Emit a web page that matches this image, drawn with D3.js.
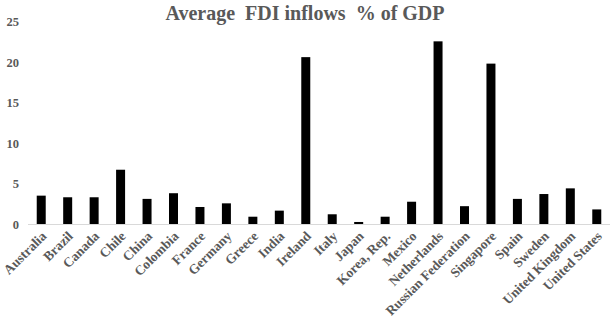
<!DOCTYPE html>
<html><head><meta charset="utf-8">
<script src="https://cdn.jsdelivr.net/npm/d3@7"></script>
<style>body{margin:0;background:#fff}svg{display:block}</style>
</head><body>
<script>
const categories = ["Australia","Brazil","Canada","Chile","China","Colombia","France","Germany","Greece","India","Ireland","Italy","Japan","Korea, Rep.","Mexico","Netherlands","Russian Federation","Singapore","Spain","Sweden","United Kingdom","United States"];
const values = [3.5,3.3,3.3,6.7,3.1,3.8,2.1,2.55,0.9,1.65,20.6,1.2,0.25,0.9,2.75,22.55,2.2,19.8,3.1,3.7,4.4,1.8];
const yTicks = [0,5,10,15,20,25];
const title = "Average  FDI inflows  % of GDP";

const W = 612, H = 322;
const svg = d3.select("body").append("svg").attr("width", W).attr("height", H);
const x = d3.scaleBand().domain(categories).range([28, 610]).paddingInner(0.66).paddingOuter(0.33);
const y = d3.scaleLinear().domain([0, 25]).range([224, 21.5]);
const font = "'Liberation Serif','Times New Roman',serif";
const gray = "#595959";

svg.append("text").attr("x", 305).attr("y", 20).attr("text-anchor", "middle")
  .attr("font-family", font).attr("font-weight", "bold").attr("font-size", 20)
  .attr("fill", gray).attr("xml:space","preserve").text(title);

const yAxis = svg.append("g").attr("transform", "translate(19,0)")
  .call(d3.axisLeft(y).tickValues(yTicks).tickSize(0).tickPadding(0));
yAxis.select(".domain").remove();
yAxis.selectAll("text").attr("font-family", font).attr("font-weight", "bold")
  .attr("font-size", 12.5).attr("fill", gray).attr("text-anchor", "end").attr("dy", "0.35em");

svg.selectAll("rect.bar").data(values).join("rect").attr("class","bar")
  .attr("x", (d,i) => x(categories[i])).attr("width", x.bandwidth())
  .attr("y", d => y(d)).attr("height", d => y(0) - y(d)).attr("fill", "#000");

const xAxis = svg.append("g").attr("transform", `translate(0,${y(0)})`)
  .call(d3.axisBottom(x).tickSize(0).tickPadding(0));
xAxis.select(".domain").attr("stroke", "#d9d9d9").attr("stroke-width", 1).attr("d", `M28,0.5H610`);
xAxis.selectAll("text").attr("font-family", font).attr("font-weight", "bold")
  .attr("font-size", 13.5).attr("fill", gray).attr("text-anchor", "end")
  .attr("dy", null).attr("y", 0)
  .attr("transform", "translate(6,13) rotate(-45)");
</script>
</body></html>
